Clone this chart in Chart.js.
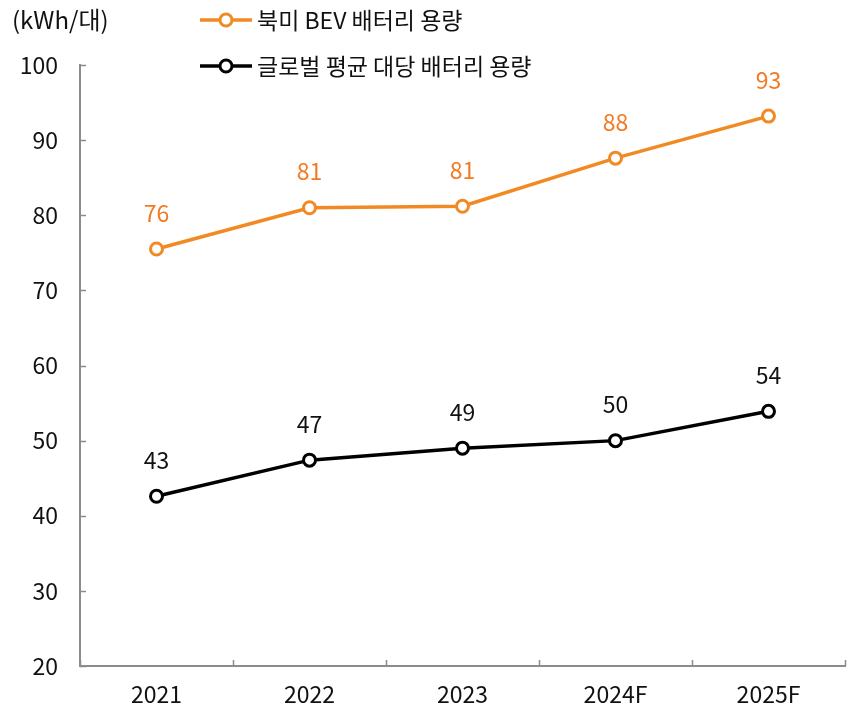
<!DOCTYPE html>
<html>
<head>
<meta charset="utf-8">
<script src="https://cdn.jsdelivr.net/npm/chart.js@4/dist/chart.umd.min.js"></script>
<style>
    body { margin: 0; background: #fff; }
    #wrap { position: relative; width: 855px; height: 707px; }
</style>
</head>
<body>
<div id="wrap"><canvas id="line-chart" width="855" height="707"></canvas></div>
<script>
var years = ['2021', '2022', '2023', '2024F', '2025F'];
var naBev = [75.5, 81.0, 81.2, 87.6, 93.2];
var globalAvg = [42.6, 47.4, 49.0, 50.0, 53.9];
var naLabels = ['76', '81', '81', '88', '93'];
var globalLabels = ['43', '47', '49', '50', '54'];
var seriesNames = ['북미 BEV 배터리 용량', '글로벌 평균 대당 배터리 용량'];
var unitLabel = '(kWh/대)';

var font = '"Noto Sans CJK KR", "Noto Sans", sans-serif';
var orange = '#f28a24';
var labelOrange = '#f47920';
var axisGrey = '#8c8c8c';

var extras = {
    id: 'extras',
    afterDraw: function (chart) {
        var ctx = chart.ctx;
        var x = chart.scales.x, y = chart.scales.y;
        ctx.save();
        // inward tick marks
        ctx.strokeStyle = axisGrey;
        ctx.lineWidth = 1.5;
        ctx.beginPath();
        for (var v = 20; v <= 100; v += 10) {
            var py = Math.round(y.getPixelForValue(v)) + 0.5;
            ctx.moveTo(x.left, py);
            ctx.lineTo(x.left + 6, py);
        }
        for (var i = 0; i <= years.length; i++) {
            var px = Math.round(x.getPixelForValue(i - 0.5)) + 0.5;
            ctx.moveTo(px, y.bottom);
            ctx.lineTo(px, y.bottom - 6);
        }
        ctx.stroke();

        // data labels
        ctx.font = '23px ' + font;
        ctx.textAlign = 'center';
        ctx.textBaseline = 'middle';
        var sets = [naLabels, globalLabels];
        var cols = [labelOrange, '#111'];
        sets.forEach(function (labels, d) {
            var meta = chart.getDatasetMeta(d);
            meta.data.forEach(function (pt, j) {
                ctx.fillStyle = cols[d];
                ctx.fillText(labels[j], pt.x, pt.y - 36);
            });
        });

        // unit
        ctx.fillStyle = '#111';
        ctx.textAlign = 'left';
        ctx.font = '24px ' + font;
        ctx.fillText(unitLabel, 12, 20);

        // legend
        ctx.font = '23px ' + font;
        var items = [[orange, 20], ['#000', 66]];
        items.forEach(function (it, k) {
            ctx.strokeStyle = it[0];
            ctx.lineWidth = 3.5;
            ctx.beginPath();
            ctx.moveTo(200, it[1]);
            ctx.lineTo(252, it[1]);
            ctx.stroke();
            ctx.beginPath();
            ctx.arc(226, it[1], 6, 0, Math.PI * 2);
            ctx.fillStyle = '#fff';
            ctx.fill();
            ctx.lineWidth = 3;
            ctx.stroke();
            ctx.fillStyle = '#111';
            ctx.fillText(seriesNames[k], 257, it[1]);
        });
        ctx.restore();
    }
};

var linechart = document.getElementById('line-chart');
var myChart = new Chart(linechart, {
    type: 'line',
    data: {
        labels: years,
        datasets: [{
            data: naBev,
            borderColor: orange,
            borderWidth: 3.5,
            pointRadius: 6,
            pointBorderWidth: 3,
            pointBackgroundColor: '#fff',
            pointBorderColor: orange
        }, {
            data: globalAvg,
            borderColor: '#000',
            borderWidth: 3.5,
            pointRadius: 6,
            pointBorderWidth: 3,
            pointBackgroundColor: '#fff',
            pointBorderColor: '#000'
        }]
    },
    options: {
        responsive: false,
        animation: false,
        layout: {
            padding: { top: 65, right: 10, left: 0, bottom: 0 }
        },
        scales: {
            x: {
                offset: true,
                grid: { display: false, drawTicks: false },
                border: { color: axisGrey, width: 2 },
                ticks: { color: '#111', font: { family: font, size: 23 }, padding: 14 },
                afterFit: function (s) { s.height = 41; }
            },
            y: {
                min: 20,
                max: 100,
                grid: { display: false, drawTicks: false },
                border: { color: axisGrey, width: 2 },
                ticks: { stepSize: 10, color: '#111', font: { family: font, size: 23 }, padding: 22 },
                afterFit: function (s) { s.width = 80; }
            }
        },
        plugins: {
            legend: { display: false },
            tooltip: { enabled: false }
        }
    },
    plugins: [extras]
});
</script>
</body>
</html>
